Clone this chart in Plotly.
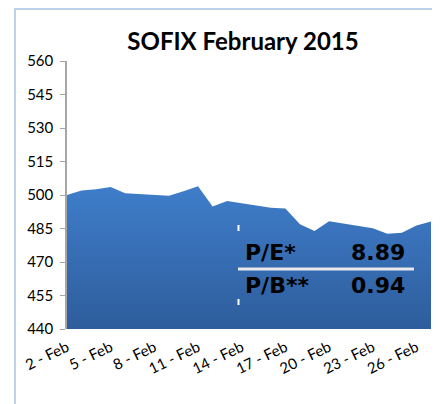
import plotly.graph_objects as go

dates = ["2015-02-02", "2015-02-03", "2015-02-04", "2015-02-05", "2015-02-06",
         "2015-02-09", "2015-02-10", "2015-02-11", "2015-02-12", "2015-02-13",
         "2015-02-16", "2015-02-17", "2015-02-18", "2015-02-19", "2015-02-20",
         "2015-02-23", "2015-02-24", "2015-02-25", "2015-02-26", "2015-02-27"]
sofix = [500.0, 502.0, 502.6, 503.6, 500.8,
         499.7, 501.7, 503.9, 494.8, 497.3,
         494.3, 493.9, 486.9, 483.9, 488.2,
         485.1, 482.7, 483.1, 486.3, 488.1]

tick_dates = ["2015-02-02", "2015-02-05", "2015-02-08", "2015-02-11", "2015-02-14",
              "2015-02-17", "2015-02-20", "2015-02-23", "2015-02-26"]
tick_labels = ["2 - Feb", "5 - Feb", "8 - Feb", "11 - Feb", "14 - Feb",
               "17 - Feb", "20 - Feb", "23 - Feb", "26 - Feb"]
y_ticks = [440, 455, 470, 485, 500, 515, 530, 545, 560]

ratio_names = ["P/E*", "P/B**"]
ratio_values = ["8.89", "0.94"]

# page body has an 8px margin: work in screen coords and shift
OFF = 8
W, H = 432, 396
L, R, T, B = 67 - OFF, W - (431 - OFF), 61 - OFF, H - (329 - OFF)
PW, PH = W - L - R, H - T - B


def px(xs):
    return (xs - OFF - L) / PW


def py(ys):
    return (H - B - (ys - OFF)) / PH


fig = go.Figure()
fig.add_trace(go.Scatter(
    x=dates, y=sofix, mode="lines", line=dict(width=0, color="#3b78c4"),
    fill="tozeroy",
    fillgradient=dict(type="vertical", start=440, stop=505,
                      colorscale=[[0, "#2e5d9c"], [1, "#3f7ecb"]]),
    hoverinfo="skip", showlegend=False,
))

fig.update_layout(
    width=W, height=H,
    margin=dict(l=L, r=R, t=T, b=B),
    paper_bgcolor="white", plot_bgcolor="white",
    title=dict(text="<b>SOFIX February 2015</b>", x=(243 - OFF) / W, xanchor="center",
               y=1 - (42 - OFF) / H, yanchor="middle",
               font=dict(family="Lato", size=24, color="#000000")),
    xaxis=dict(type="date", range=["2015-02-02", "2015-02-27"],
               tickvals=tick_dates, ticktext=tick_labels, tickangle=-26,
               ticklabelstandoff=6,
               showgrid=False, zeroline=False, showline=False, ticks="",
               tickfont=dict(family="Lato", size=15, color="#000000")),
    yaxis=dict(range=[440, 560], tickvals=y_ticks, showgrid=False, zeroline=False,
               showline=True, linecolor="#a6a6a6", linewidth=1.5,
               ticks="outside", ticklen=5, tickcolor="#a6a6a6",
               ticklabelstandoff=4,
               tickfont=dict(family="Lato", size=15, color="#000000")),
)

# chart border (light blue frame)
fig.add_shape(type="rect", xref="paper", yref="paper",
              x0=px(15), x1=px(460), y0=py(430), y1=py(9),
              line=dict(color="#a9c5e3", width=1.5), fillcolor="rgba(0,0,0,0)",
              layer="below")

# ratio box
row_y = [py(252.5), py(285.5)]
for name, val, yy in zip(ratio_names, ratio_values, row_y):
    fig.add_annotation(xref="paper", yref="paper", x=px(243), y=yy,
                       xanchor="left", yanchor="middle", showarrow=False,
                       text="<b>" + name + "</b>",
                       font=dict(family="DejaVu Sans", size=22, color="#000000"))
    fig.add_annotation(xref="paper", yref="paper", x=px(407), y=yy,
                       xanchor="right", yanchor="middle", showarrow=False,
                       text="<b>" + val + "</b>",
                       font=dict(family="DejaVu Sans", size=22, color="#000000"))

fig.add_shape(type="line", xref="paper", yref="paper",
              x0=px(238), x1=px(414), y0=py(269), y1=py(269),
              line=dict(color="#e8e8e8", width=3))
for yy in (228, 302):
    fig.add_shape(type="line", xref="paper", yref="paper",
                  x0=px(238.5), x1=px(238.5), y0=py(yy + 3), y1=py(yy - 3),
                  line=dict(color="white", width=2))

fig.write_html("out.html")
